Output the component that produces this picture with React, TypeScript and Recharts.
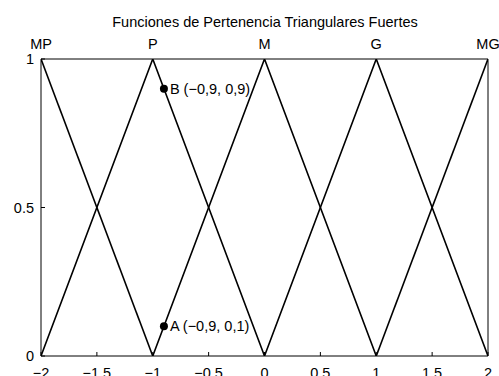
import React from 'react';
import { ComposedChart, Line, XAxis, YAxis, ReferenceDot } from 'recharts';

const xValues = [-2, -1, 0, 1, 2];
const mpValues = [1, 0, null, null, null];
const pValues = [0, 1, 0, null, null];
const mValues = [null, 0, 1, 0, null];
const gValues = [null, null, 0, 1, 0];
const mgValues = [null, null, null, 0, 1];

const bottomTicks = [-2, -1.5, -1, -0.5, 0, 0.5, 1, 1.5, 2];
const topTicks = [-2, -1, 0, 1, 2];
const topLabels = ['MP', 'P', 'M', 'G', 'MG'];
const yTicks = [0, 0.5, 1];

const pointNames = ['A', 'B'];
const pointX = [-0.9, -0.9];
const pointY = [0.1, 0.9];
const pointLabels = ['A (\u22120,9, 0,1)', 'B (\u22120,9, 0,9)'];

const seriesKeys = ['MP', 'P', 'M', 'G', 'MG'];
const seriesValues = [mpValues, pValues, mValues, gValues, mgValues];

const data = xValues.map((x, i) => {
  const row: any = { x };
  seriesKeys.forEach((k, j) => {
    row[k] = seriesValues[j][i];
  });
  return row;
});

const FONT = '"Liberation Sans", Arial, Helvetica, sans-serif';
const FS = 14.5;

const fmt = (v: number) => (v < 0 ? '\u2212' + String(-v) : String(v));

const BottomTick = (props: any) => {
  const { x, y, payload } = props;
  return (
    <g>
      <line x1={x} x2={x} y1={y} y2={y - 4} stroke="#000" strokeWidth={1} />
      <text x={x} y={y + 22} textAnchor="middle" fontSize={FS} fontFamily={FONT} fill="#000">
        {fmt(payload.value)}
      </text>
    </g>
  );
};

const TopTick = (props: any) => {
  const { x, y, payload } = props;
  const idx = topTicks.indexOf(payload.value);
  return (
    <text x={x} y={y - 10} textAnchor="middle" fontSize={FS} fontFamily={FONT} fill="#000">
      {topLabels[idx]}
    </text>
  );
};

const LeftTick = (props: any) => {
  const { x, y, payload } = props;
  return (
    <g>
      <line x1={x} x2={x + 4} y1={y} y2={y} stroke="#000" strokeWidth={1} />
      <text x={x - 7} y={y} dy="0.35em" textAnchor="end" fontSize={FS} fontFamily={FONT} fill="#000">
        {String(payload.value)}
      </text>
    </g>
  );
};

const PointLabel = (props: any) => {
  const { viewBox, value } = props;
  const cx = viewBox.x + viewBox.width / 2;
  const cy = viewBox.y + viewBox.height / 2;
  return (
    <text x={cx + 6} y={cy} dy="0.35em" textAnchor="start" fontSize={FS} fontFamily={FONT} fill="#000">
      {value}
    </text>
  );
};

export default function App() {
  return (
    <div style={{ position: 'absolute', left: 0, top: 0, width: 499, height: 376, background: '#fff', overflow: 'hidden' }}>
      <ComposedChart
        width={499}
        height={376}
        data={data}
        margin={{ top: 0, right: 0, bottom: 0, left: 0 }}
        style={{ position: 'absolute', left: 0, top: 0 }}
      >
        <XAxis
          xAxisId="bottom"
          dataKey="x"
          type="number"
          domain={[-2, 2]}
          ticks={bottomTicks}
          orientation="bottom"
          height={20}
          tickSize={0}
          tickMargin={0}
          tickLine={false}
          axisLine={{ stroke: '#000', strokeWidth: 1 }}
          tick={<BottomTick />}
          interval={0}
          allowDataOverflow
        />
        <XAxis
          xAxisId="top"
          dataKey="x"
          type="number"
          domain={[-2, 2]}
          ticks={topTicks}
          orientation="top"
          height={59}
          tickSize={0}
          tickMargin={0}
          tickLine={false}
          axisLine={{ stroke: '#000', strokeWidth: 1 }}
          tick={<TopTick />}
          interval={0}
          allowDataOverflow
        />
        <YAxis
          yAxisId="left"
          type="number"
          domain={[0, 1]}
          ticks={yTicks}
          orientation="left"
          width={41}
          tickSize={0}
          tickMargin={0}
          tickLine={false}
          axisLine={{ stroke: '#000', strokeWidth: 1 }}
          tick={<LeftTick />}
          interval={0}
          allowDataOverflow
        />
        <YAxis
          yAxisId="right"
          type="number"
          domain={[0, 1]}
          orientation="right"
          width={11}
          tick={false}
          tickLine={false}
          axisLine={{ stroke: '#000', strokeWidth: 1 }}
        />
        {seriesKeys.map((k) => (
          <Line
            key={k}
            xAxisId="bottom"
            yAxisId="left"
            dataKey={k}
            type="linear"
            stroke="#000"
            strokeWidth={1.6}
            dot={false}
            activeDot={false}
            isAnimationActive={false}
            connectNulls={false}
          />
        ))}
        {pointNames.map((n, i) => (
          <ReferenceDot
            key={n}
            xAxisId="bottom"
            yAxisId="left"
            x={pointX[i]}
            y={pointY[i]}
            r={4}
            fill="#000"
            stroke="#000"
            strokeWidth={0}
            label={<PointLabel value={pointLabels[i]} />}
          />
        ))}
      </ComposedChart>
      <svg style={{ position: 'absolute', left: 0, top: 0, pointerEvents: 'none' }} width={499} height={40}>
        <text x={265} y={27} textAnchor="middle" fontSize={FS} fontFamily={FONT} fill="#000">
          Funciones de Pertenencia Triangulares Fuertes
        </text>
      </svg>
    </div>
  );
}
